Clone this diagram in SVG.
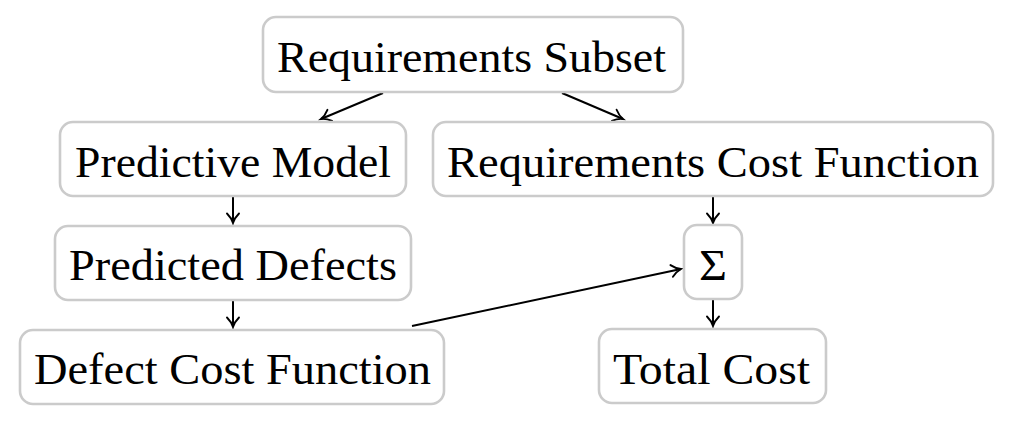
<svg xmlns="http://www.w3.org/2000/svg" width="1018" height="423" viewBox="0 0 1018 423">
<style>
.box{fill:#fff;stroke:#cbcbcb;stroke-width:2.6}
.t{font-family:"Liberation Serif","DejaVu Serif",serif;font-size:44px;fill:#000}
.c{stroke:#000;stroke-width:2;fill:none}
</style>
<defs>
<marker id="ah" markerWidth="16" markerHeight="16" refX="12" refY="8" orient="auto" markerUnits="userSpaceOnUse">
<path d="M2.5 2 Q7 6.5 12 8 Q7 9.5 2.5 14" fill="none" stroke="#000" stroke-width="1.9" stroke-linecap="round"/>
</marker>
</defs>
<rect width="1018" height="423" fill="#fff"/>
<g id="connectors">
<line class="c" x1="383" y1="93" x2="321" y2="119" marker-end="url(#ah)"/>
<line class="c" x1="562" y1="93" x2="623" y2="119" marker-end="url(#ah)"/>
<line class="c" x1="233" y1="197" x2="233" y2="223" marker-end="url(#ah)"/>
<line class="c" x1="233" y1="301" x2="233" y2="327" marker-end="url(#ah)"/>
<line class="c" x1="713" y1="197" x2="713" y2="223" marker-end="url(#ah)"/>
<line class="c" x1="713" y1="300" x2="713" y2="326" marker-end="url(#ah)"/>
<line class="c" x1="412" y1="326" x2="681" y2="269" marker-end="url(#ah)"/>
</g>
<g id="n-subset">
<rect class="box" x="263" y="17" width="420" height="75" rx="13"/>
<text class="t" x="277" y="72" textLength="389" lengthAdjust="spacingAndGlyphs">Requirements Subset</text>
</g>
<g id="n-model">
<rect class="box" x="60" y="122" width="346" height="74" rx="13"/>
<text class="t" x="75" y="177" textLength="316" lengthAdjust="spacingAndGlyphs">Predictive Model</text>
</g>
<g id="n-reqcost">
<rect class="box" x="433" y="122" width="560" height="74" rx="13"/>
<text class="t" x="447" y="177" textLength="532" lengthAdjust="spacingAndGlyphs">Requirements Cost Function</text>
</g>
<g id="n-defects">
<rect class="box" x="55" y="226" width="356" height="74" rx="13"/>
<text class="t" x="69" y="280" textLength="328" lengthAdjust="spacingAndGlyphs">Predicted Defects</text>
</g>
<g id="n-sum">
<rect class="box" x="684" y="225" width="58" height="74" rx="13"/>
<text class="t" x="699" y="280" textLength="28" lengthAdjust="spacingAndGlyphs">Σ</text>
</g>
<g id="n-defcost">
<rect class="box" x="20" y="330" width="424" height="74" rx="13"/>
<text class="t" x="34" y="384" textLength="397" lengthAdjust="spacingAndGlyphs">Defect Cost Function</text>
</g>
<g id="n-total">
<rect class="box" x="599" y="329" width="227" height="74" rx="13"/>
<text class="t" x="613" y="384" textLength="197" lengthAdjust="spacingAndGlyphs">Total Cost</text>
</g>
</svg>
